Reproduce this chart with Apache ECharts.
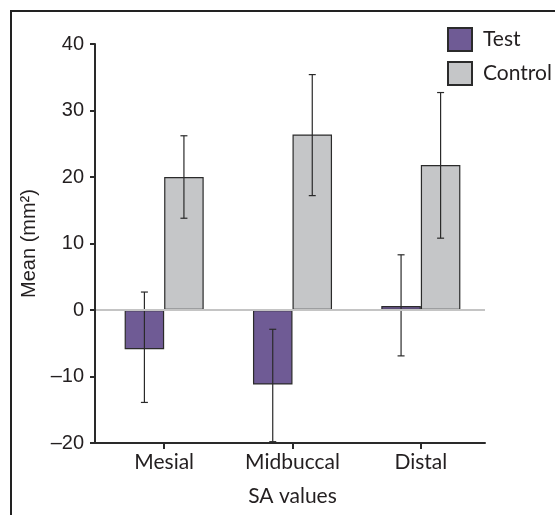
<!DOCTYPE html>
<html>
<head>
<meta charset="utf-8">
<script src="https://cdn.jsdelivr.net/npm/echarts@6/dist/echarts.min.js"></script>
<style>html,body{margin:0;padding:0;background:#fff}#c{width:555px;height:515px}</style>
</head>
<body>
<div id="c"></div>
<script>
const categories = ['Mesial', 'Midbuccal', 'Distal'];
const testMean = [-5.9, -11.2, 0.6];
const testHigh = [2.7, -2.9, 8.3];
const testLow = [-13.9, -19.8, -6.9];
const controlMean = [20.0, 26.4, 21.8];
const controlHigh = [26.2, 35.4, 32.7];
const controlLow = [13.8, 17.2, 10.8];
const yTicks = { min: -20, max: 40, interval: 10 };

const TXT = '#231f20';
const PURPLE = '#6f5b95';
const GREY = '#c5c6c8';
const CAT_GAP = 0.384;

function errRender(sign) {
  return function (params, api) {
    const x = api.value(0);
    const lo = api.coord([x, api.value(1)]);
    const hi = api.coord([x, api.value(2)]);
    const band = api.size([1, 0])[0];
    const barW = band * (1 - CAT_GAP) / 2;
    const cx = lo[0] + sign * barW / 2;
    const cap = 3.5;
    const st = { stroke: '#2a2a2a', lineWidth: 1.2 };
    return {
      type: 'group',
      children: [
        { type: 'line', shape: { x1: cx, y1: lo[1], x2: cx, y2: hi[1] }, style: st },
        { type: 'line', shape: { x1: cx - cap, y1: hi[1], x2: cx + cap, y2: hi[1] }, style: st },
        { type: 'line', shape: { x1: cx - cap, y1: lo[1], x2: cx + cap, y2: lo[1] }, style: st }
      ]
    };
  };
}

const chart = echarts.init(document.getElementById('c'), null, { renderer: 'canvas' });
const option = {
  animation: false,
  backgroundColor: '#fff',
  grid: { left: 100, right: 70, top: 44, bottom: 72, containLabel: false },
  legend: {
    orient: 'vertical', left: 447, top: 27, padding: 0,
    itemWidth: 24, itemHeight: 23, itemGap: 9,
    icon: 'rect',
    data: ['Test', 'Control'],
    textStyle: { fontFamily: 'Lato', fontSize: 21, color: TXT, padding: [0, 0, 0, 6] }
  },
  xAxis: {
    type: 'category',
    data: categories,
    boundaryGap: true,
    name: 'SA values',
    nameLocation: 'middle',
    nameGap: 43,
    nameTextStyle: { fontFamily: 'Lato', fontSize: 21, color: TXT },
    axisLine: { show: true, onZero: false, lineStyle: { color: '#2a2a2a', width: 2 } },
    axisTick: { show: true, alignWithLabel: true, length: 6, lineStyle: { color: '#2a2a2a', width: 2 } },
    axisLabel: { fontFamily: 'Lato', fontSize: 21, color: TXT, margin: 9 },
    splitLine: { show: false }
  },
  yAxis: {
    type: 'value',
    min: yTicks.min, max: yTicks.max, interval: yTicks.interval,
    offset: 5,
    name: 'Mean (mm²)',
    nameLocation: 'middle',
    nameRotate: 90,
    nameGap: 39,
    nameTextStyle: { fontFamily: 'Liberation Sans', fontSize: 20, color: TXT },
    axisLine: { show: true, lineStyle: { color: '#2a2a2a', width: 2 } },
    axisTick: { show: true, length: 5, lineStyle: { color: '#2a2a2a', width: 2 } },
    axisLabel: {
      fontFamily: 'Liberation Sans', fontSize: 20, color: TXT, margin: 11,
      formatter: v => String(v).replace('-', '\u2013')
    },
    splitLine: { show: false }
  },
  series: [
    {
      name: 'zero', type: 'line', data: [], z: 1, silent: true,
      markLine: {
        silent: true, symbol: 'none', label: { show: false },
        lineStyle: { color: '#c4c4c4', width: 2, type: 'solid' },
        data: [{ yAxis: 0 }]
      }
    },
    {
      name: 'Test', type: 'bar', data: testMean, z: 2,
      barGap: '0%', barCategoryGap: (CAT_GAP * 100) + '%',
      itemStyle: { color: PURPLE, borderColor: '#2b2b2b', borderWidth: 1.2 }
    },
    {
      name: 'Control', type: 'bar', data: controlMean, z: 2,
      barGap: '0%', barCategoryGap: (CAT_GAP * 100) + '%',
      itemStyle: { color: GREY, borderColor: '#2b2b2b', borderWidth: 1.2 }
    },
    {
      name: 'testErr', type: 'custom', z: 3, silent: true,
      renderItem: errRender(-1),
      encode: { x: 0, y: [1, 2] },
      data: categories.map((c, i) => [i, testLow[i], testHigh[i]])
    },
    {
      name: 'controlErr', type: 'custom', z: 3, silent: true,
      renderItem: errRender(1),
      encode: { x: 0, y: [1, 2] },
      data: categories.map((c, i) => [i, controlLow[i], controlHigh[i]])
    }
  ]
};
chart.setOption(option);

// frame + small axis-line joins between the offset y axis and the plot area
const gridRect = chart.getModel().getComponent('grid', 0).coordinateSystem.getRect();
const yBottom = chart.convertToPixel({ yAxisIndex: 0 }, yTicks.min);
const yZero = chart.convertToPixel({ yAxisIndex: 0 }, 0);
const yAxisX = gridRect.x - 5;
chart.setOption({
  graphic: [
    { type: 'rect', shape: { x: 11, y: 11, width: 700, height: 700 }, style: { fill: null, stroke: '#222', lineWidth: 2 }, z: 0 },
    { type: 'line', shape: { x1: yAxisX, y1: yBottom, x2: gridRect.x + 1, y2: yBottom }, style: { stroke: '#2a2a2a', lineWidth: 2 }, z: 5 },
    { type: 'line', shape: { x1: yAxisX + 1, y1: yZero, x2: gridRect.x + 1, y2: yZero }, style: { stroke: '#c4c4c4', lineWidth: 2 }, z: 1 }
  ]
});
</script>
</body>
</html>
